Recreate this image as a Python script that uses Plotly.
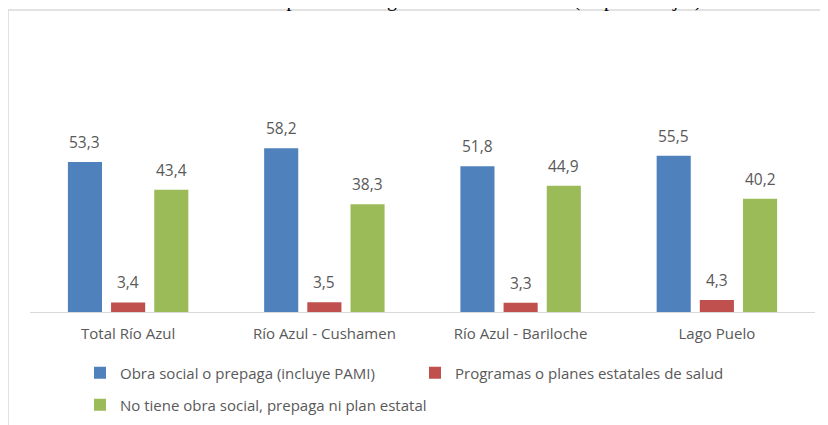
import plotly.graph_objects as go

categories = ["Total Río Azul", "Río Azul - Cushamen", "Río Azul - Bariloche", "Lago Puelo"]
series_names = [
    "Obra social o prepaga (incluye PAMI)",
    "Programas o planes estatales de salud",
    "No tiene obra social, prepaga ni plan estatal",
]
obra_social = [53.3, 58.2, 51.8, 55.5]
programas = [3.4, 3.5, 3.3, 4.3]
no_tiene = [43.4, 38.3, 44.9, 40.2]
title_text = "Gráfico 4. Distribución de la población según cobertura de salud (en porcentajes)"

series_values = [obra_social, programas, no_tiene]
colors = ["#4F81BD", "#C0504D", "#9BBB59"]
legend_ids = ["legend", "legend", "legend2"]

# page has an 8px body margin: figure pixel = page pixel - 8
OFF = 8
W, H = 828, 425
ml, mr, mt, mb = 22, 21, 107, 121
pw = W - ml - mr
ph = H - mt - mb

def px_x(p):
    return (p - OFF - ml) / pw

def px_y(p):
    return (H - mb - (p - OFF)) / ph

fig = go.Figure()
for name, vals, col, lg in zip(series_names, series_values, colors, legend_ids):
    fig.add_trace(go.Bar(
        x=categories, y=vals, name=name, marker_color=col,
        marker_line_width=0, legend=lg,
    ))

bargap = 0.34
slot = pw / len(categories)
bar_slot = slot * (1 - bargap) / 3
annotations = []
for i, vals in enumerate(series_values):
    for c, v in zip(categories, vals):
        annotations.append(dict(
            x=c, y=v, xref="x", yref="y", text=f"{v:.1f}".replace(".", ","),
            showarrow=False, xshift=(i - 1) * bar_slot, yshift=7,
            yanchor="bottom", font=dict(family="Open Sans", size=15.5, color="#595959"),
        ))

annotations.append(dict(
    x=px_x(704), y=px_y(-1), xref="paper", yref="paper", text=title_text,
    showarrow=False, xanchor="right", yanchor="middle",
    font=dict(family="Liberation Serif", size=20, color="#000000"),
))

fig.update_layout(
    width=W, height=H,
    margin=dict(l=ml, r=mr, t=mt, b=mb, autoexpand=False),
    paper_bgcolor="white", plot_bgcolor="white",
    barmode="group", bargap=bargap, bargroupgap=0.21,
    font=dict(family="Open Sans", size=13, color="#595959"),
    xaxis=dict(showline=True, linecolor="#D9D9D9", linewidth=1, ticks="",
               showgrid=False, ticklabelstandoff=8, automargin=False,
               tickfont=dict(family="Open Sans", size=15, color="#595959")),
    yaxis=dict(range=[0, 70], visible=False, showgrid=False, automargin=False),
    legend=dict(orientation="h", x=px_x(80), y=px_y(373), xanchor="left", yanchor="middle",
                entrywidth=290, entrywidthmode="pixels",
                font=dict(family="Open Sans", size=15, color="#595959")),
    legend2=dict(orientation="h", x=px_x(80), y=px_y(405), xanchor="left", yanchor="middle",
                 font=dict(family="Open Sans", size=15, color="#595959")),
    annotations=annotations,
    shapes=[dict(type="rect", xref="paper", yref="paper",
                 x0=px_x(8), x1=px_x(840), y0=px_y(440), y1=px_y(10),
                 line=dict(color="#D9D9D9", width=1.5), fillcolor="rgba(0,0,0,0)", layer="below")],
)

fig.write_html("out.html")
